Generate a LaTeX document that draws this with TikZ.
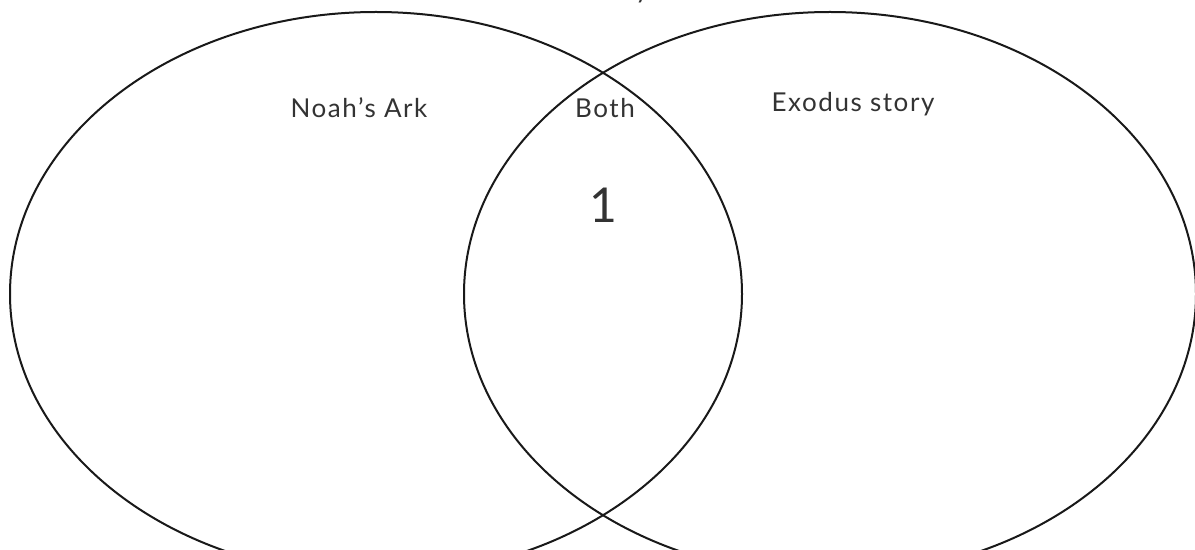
\documentclass[tikz,border=0pt]{standalone}
\usepackage{fontspec}
\setmainfont{Lato}[LetterSpace=6]
\usetikzlibrary{shapes.geometric,positioning}
\definecolor{inkgray}{HTML}{333333}

\begin{document}
\begin{tikzpicture}[
  x=0.5pt, y=-0.5pt,
  set/.style={draw=black!90, line width=1pt, ellipse, inner sep=0pt,
              minimum width=366pt, minimum height=282pt},
  lbl/.style={text=inkgray, font=\fontsize{13}{15}\selectfont, inner sep=0pt},
  count/.style={text=inkgray, font=\fontsize{24}{28}\selectfont, inner sep=0pt}
]
\useasboundingbox (0,0) rectangle (1195,550);
% the two sets
\node[set] (noah)   at (376,294) {};
\node[set] (exodus) at (830,294) {};
% labels
\node[lbl, anchor=base] (title) at (642,-1) {y};
\node[lbl] (noahlbl)   at (359,108) {Noah's Ark};
\node[lbl] (bothlbl)   at (605,108) {Both};
\node[lbl] (exoduslbl) at (853,104) {Exodus story};
\node[count] (bothnum) at (603,205) {1};
\end{tikzpicture}
\end{document}
